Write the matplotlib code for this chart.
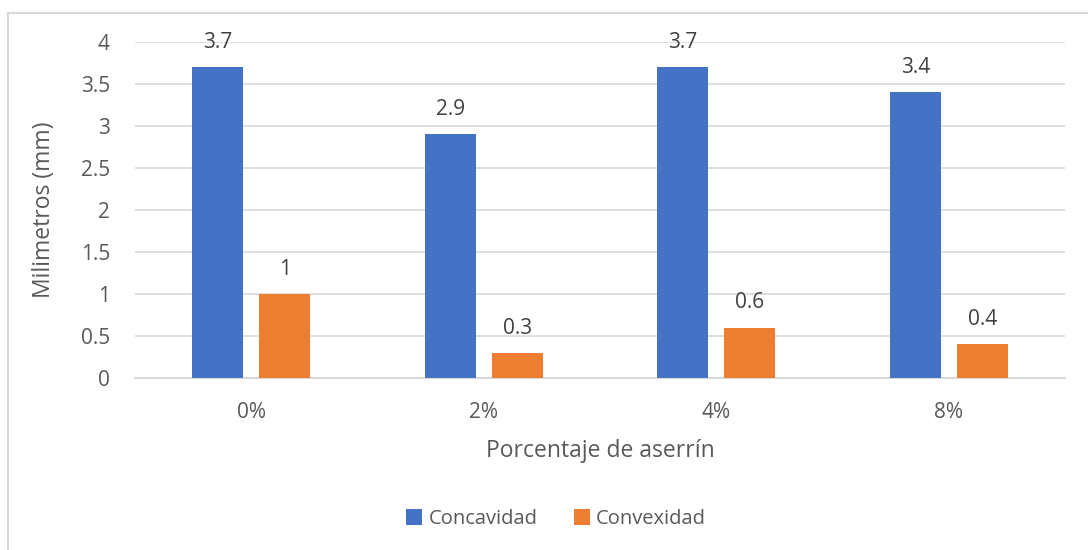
import matplotlib.pyplot as plt
import numpy as np
from matplotlib.patches import Rectangle

categorias = ['0%', '2%', '4%', '8%']
concavidad = [3.7, 2.9, 3.7, 3.4]
convexidad = [1, 0.3, 0.6, 0.4]
yticks = [0, 0.5, 1, 1.5, 2, 2.5, 3, 3.5, 4]
ytick_labels = ['0', '0.5', '1', '1.5', '2', '2.5', '3', '3.5', '4']

plt.rcParams['font.family'] = ['Open Sans', 'DejaVu Sans']
gris = '#595959'

fig = plt.figure(figsize=(10.88, 5.5), dpi=100)
ax = fig.add_axes([135/1088, 1 - 378/550, 930/1088, 336/550])

x = np.arange(len(categorias))
w = 0.22
off = 0.144
b1 = ax.bar(x - off, concavidad, w, color='#4472c4', label='Concavidad', zorder=3)
b2 = ax.bar(x + off, convexidad, w, color='#ed7d31', label='Convexidad', zorder=3)

# etiquetas de datos sobre cada barra
for bars, vals in ((b1, concavidad), (b2, convexidad)):
    for r, v in zip(bars, vals):
        ax.text(r.get_x() + r.get_width()/2, v + 0.17, f'{v:g}', ha='center', va='bottom',
                fontsize=15, color='#404040')

ax.set_xlim(-0.5, 3.5)
ax.set_ylim(0, 4)
ax.set_yticks(yticks)
ax.set_yticklabels(ytick_labels)
ax.set_xticks(x)
ax.set_xticklabels(categorias)
ax.tick_params(length=0, labelsize=15, labelcolor=gris)
ax.tick_params(axis='x', pad=17)
ax.tick_params(axis='y', pad=18)
ax.grid(axis='y', color='#d9d9d9', linewidth=1.2, zorder=0)
for s in ['top', 'right', 'left']:
    ax.spines[s].set_visible(False)
ax.spines['bottom'].set_color('#d9d9d9')
ax.spines['bottom'].set_linewidth(1.5)

ax.set_ylabel('Milimetros (mm)', fontsize=16.5, color=gris, labelpad=18)
ax.set_xlabel('Porcentaje de aserrín', fontsize=16.5, color=gris, labelpad=12)

fig.legend(loc='center', bbox_to_anchor=(556/1088, 1 - 519/550), ncol=2, frameon=False,
           fontsize=14.5, labelcolor=gris, handlelength=0.8, handleheight=0.8,
           handletextpad=0.3, columnspacing=1.8)

# marco gris del área del gráfico
fig.patches.append(Rectangle((8/1088, -0.1), 1.2, 1 - 13/550 + 0.1, transform=fig.transFigure,
                             fill=False, edgecolor='#d9d9d9', linewidth=1.5))

fig.savefig('out.png', dpi=100)
